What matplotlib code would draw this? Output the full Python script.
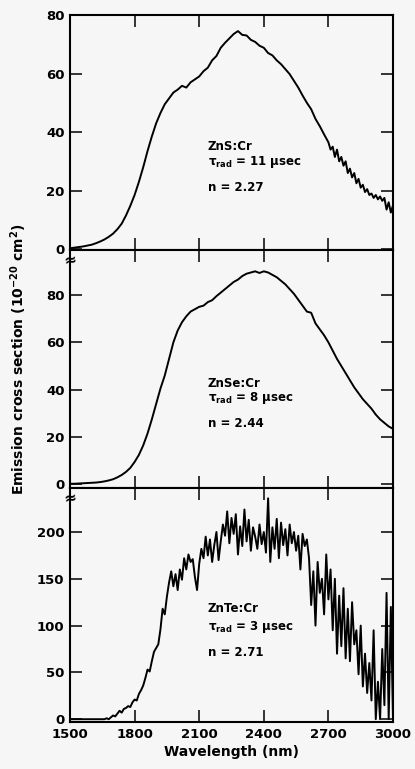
import matplotlib
matplotlib.use('Agg')
import matplotlib.pyplot as plt
import numpy as np

# ZnS:Cr, 20 nm steps up to 2700 then 10 nm steps
wl_zns = np.concatenate([np.arange(1500, 2700, 20), np.arange(2700, 3001, 10)])
zns = [0.3, 0.5, 0.7, 0.9, 1.2, 1.5, 2.0, 2.6, 3.3, 4.2,
       5.3, 6.8, 8.7, 11.5, 14.8, 18.5, 23.0, 28.0, 33.5, 38.5,
       43.0, 46.5, 49.5, 51.5, 53.5, 54.5, 55.8, 55.2, 57.0, 58.0,
       59.0, 60.8, 62.0, 64.5, 66.0, 68.8, 70.5, 72.0, 73.5, 74.5,
       73.2, 73.0, 71.5, 70.8, 69.5, 68.8, 67.0, 66.2, 64.5, 63.2,
       61.5, 59.8, 57.5, 55.2, 52.5, 50.0, 47.8, 44.5, 42.0, 39.2,
       36.5, 34.0, 35.0, 31.5, 34.0, 30.0, 31.5, 28.5, 30.0, 26.0,
       27.5, 24.5, 26.0, 22.5, 24.0, 21.0, 22.0, 19.5, 20.5, 18.5,
       19.0, 17.5, 18.5, 17.0, 18.0, 16.5, 17.5, 13.5, 16.0, 12.5, 15.0]

# ZnSe:Cr, 20 nm steps
wl_znse = np.arange(1500, 3001, 20)
znse = [0.3, 0.3, 0.4, 0.5, 0.6, 0.7, 0.8, 1.0, 1.3, 1.7,
        2.2, 3.0, 4.0, 5.3, 7.0, 9.5, 12.5, 16.5, 21.5, 27.5,
        34.0, 40.5, 46.0, 53.0, 60.0, 65.0, 68.5, 71.0, 73.0, 74.0,
        75.0, 75.5, 77.0, 77.8, 79.5, 81.0, 82.5, 84.0, 85.5, 86.5,
        88.0, 89.0, 89.5, 90.0, 89.3, 90.0, 89.5, 88.5, 87.5, 86.0,
        84.5, 82.5, 80.5, 78.0, 75.5, 73.0, 72.5, 68.0, 65.5, 63.0,
        60.0, 56.5, 53.0, 50.0, 47.0, 44.0, 41.0, 38.5, 36.0, 34.0,
        32.0, 29.5, 27.5, 26.0, 24.5, 23.5]

# ZnTe:Cr, 10 nm steps
wl_znte = np.arange(1500, 3001, 10)
znte = [0] * 17 + [
    1, 0, 2, 4, 3, 6, 9, 7, 11, 12,
    14, 13, 18, 21, 20, 27, 31, 36, 44, 53,
    51, 62, 72, 76, 80, 96, 118, 112, 131, 146,
    158, 142, 155, 138, 160, 149, 172, 160, 176, 168,
    171, 152, 138, 166, 182, 172, 195, 175, 192, 168,
    186, 200, 170, 190, 208, 196, 222, 188, 215, 198,
    219, 176, 206, 185, 224, 190, 213, 180, 205, 195,
    182, 208, 187, 200, 178, 236, 168, 205, 182, 214,
    172, 210, 186, 203, 175, 208, 188, 200, 180, 196,
    160, 198, 185, 192, 172, 122, 158, 100, 168, 135,
    150, 112, 176, 128, 160, 95, 150, 70, 132, 78,
    140, 65, 118, 62, 125, 80, 95, 48, 100, 35,
    70, 28, 60, 20, 95, 0, 40, 0, 75, 15,
    135, 0, 120, 0]

labels = [["ZnS:Cr", r"τ$_{\mathbf{rad}}$ = 11 µsec", "n = 2.27"],
          ["ZnSe:Cr", r"τ$_{\mathbf{rad}}$ = 8 µsec", "n = 2.44"],
          ["ZnTe:Cr", r"τ$_{\mathbf{rad}}$ = 3 µsec", "n = 2.71"]]

BG = '#f6f6f6'
plt.rcParams['font.family'] = ['DejaVu Sans']
plt.rcParams['font.weight'] = 'bold'
plt.rcParams['mathtext.fontset'] = 'dejavusans'
plt.rcParams['mathtext.default'] = 'bf'

fig = plt.figure(figsize=(4.15, 7.69), dpi=100)
fig.patch.set_facecolor(BG)

left, width = 0.1687, 0.7783
boxes = [(0.6749, 0.3056), (0.3654, 0.3095), (0.0611, 0.3043)]
series = [(wl_zns, zns), (wl_znse, znse), (wl_znte, znte)]
ylims = [(-0.3, 80), (-1.5, 99), (-3, 247)]
yticks = [[0, 20, 40, 60, 80], [0, 20, 40, 60, 80], [0, 50, 100, 150, 200]]
text_y = [(0.44, 0.375, 0.265), (0.44, 0.38, 0.27), (0.487, 0.405, 0.295)]

axes = []
for i in range(3):
    ax = fig.add_axes([left, boxes[i][0], width, boxes[i][1]])
    ax.set_facecolor(BG)
    x, y = series[i]
    ax.plot(x, y, color='black', lw=1.4)
    ax.set_xlim(1500, 3000)
    ax.set_ylim(*ylims[i])
    ax.set_yticks(yticks[i])
    ax.set_xticks([1500, 1800, 2100, 2400, 2700, 3000])
    ax.tick_params(direction='in', length=8.5, width=1.1, top=True, right=True,
                   labelsize=9.5, pad=4)
    for sp in ax.spines.values():
        sp.set_linewidth(1.5)
    if i < 2:
        ax.tick_params(labelbottom=False)
    for tl in ax.get_xticklabels() + ax.get_yticklabels():
        tl.set_fontweight('bold')
    for t, ty in zip(labels[i], text_y[i]):
        ax.text(0.427, ty, t, transform=ax.transAxes, fontsize=8.5,
                fontweight='bold', ha='left', va='center')
    if i > 0:
        # axis break mark on left spine
        ax.text(0.0, 0.955, '≈', transform=ax.transAxes, fontsize=11,
                ha='center', va='center', rotation=10, fontweight='bold')
    axes.append(ax)

axes[2].set_xlabel('Wavelength (nm)', fontsize=10, fontweight='bold', labelpad=3)
fig.text(0.046, 0.533, r'Emission cross section (10$^{-20}$ cm$^{2}$)',
         rotation=90, ha='center', va='center', fontsize=10, fontweight='bold')

plt.savefig('out.png', dpi=100, facecolor=BG)
